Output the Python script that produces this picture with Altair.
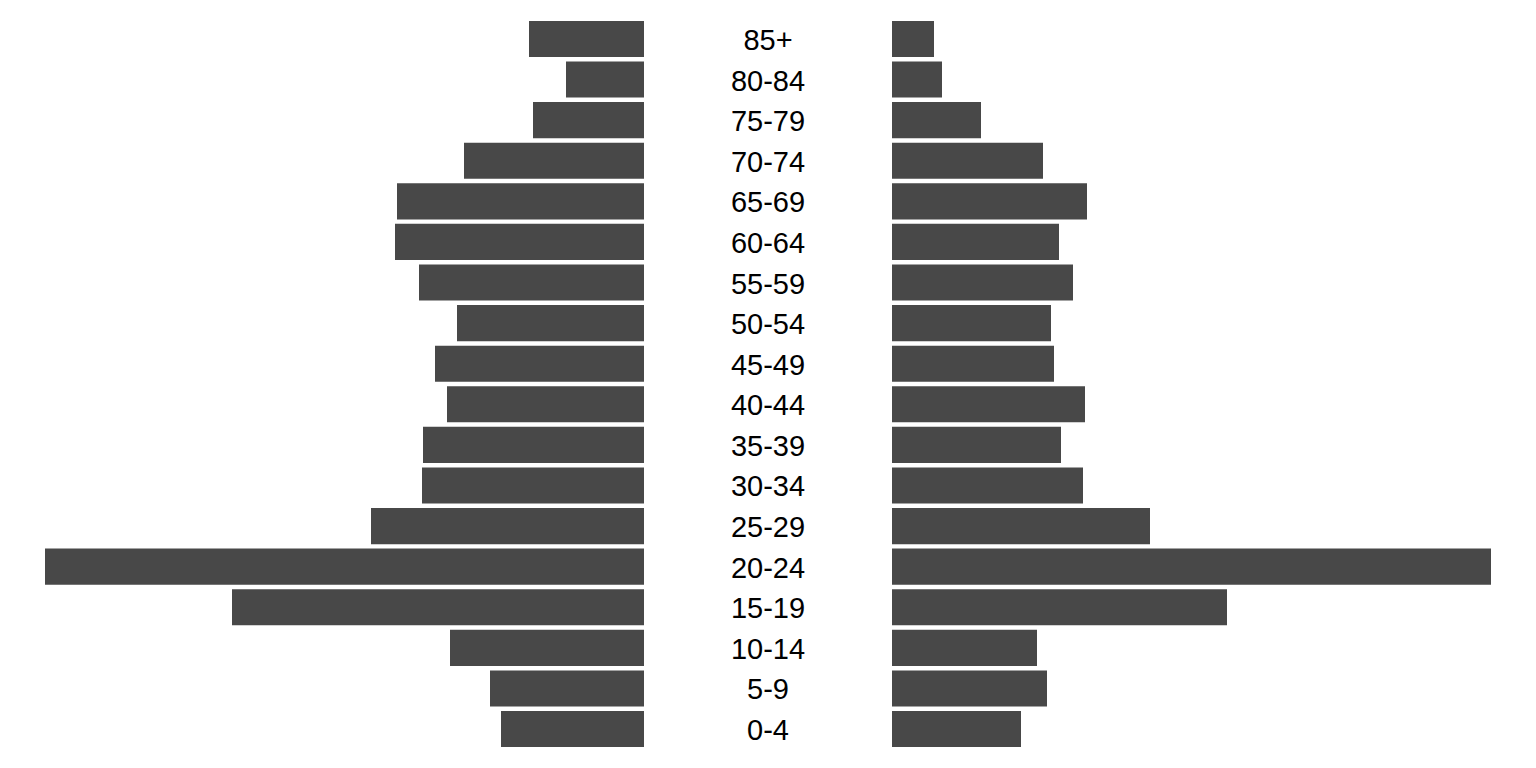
import altair as alt
import pandas as pd

age_groups = ["85+", "80-84", "75-79", "70-74", "65-69", "60-64", "55-59", "50-54",
              "45-49", "40-44", "35-39", "30-34", "25-29", "20-24", "15-19", "10-14",
              "5-9", "0-4"]
left_values = [115, 78, 111, 180, 247, 249, 225, 187, 209, 197, 221, 222, 273, 599,
               412, 194, 154, 143]
right_values = [42, 50, 89, 151, 195, 167, 181, 159, 162, 193, 169, 191, 258, 599,
                335, 145, 155, 129]

df = pd.DataFrame({"age": age_groups, "left": left_values, "right": right_values})

yscale = alt.Scale(type="band", domain=age_groups, paddingInner=0.11, paddingOuter=0.515)
y_enc = alt.Y("age:N", sort=age_groups, scale=yscale, axis=None)
bar_color = "#484848"
H = 768

left = alt.Chart(df).mark_bar(color=bar_color).encode(
    x=alt.X("left:Q", scale=alt.Scale(domain=[0, 644], reverse=True, nice=False), axis=None),
    y=y_enc,
).properties(width=644, height=H)

middle = alt.Chart(df).mark_text(
    font="Liberation Sans", fontSize=29, color="#000000", baseline="middle", align="center",
    dy=2
).encode(
    y=alt.Y("age:N", sort=age_groups, scale=yscale, axis=None, bandPosition=0.5),
    text="age:N",
).properties(width=248, height=H)

right = alt.Chart(df).mark_bar(color=bar_color).encode(
    x=alt.X("right:Q", scale=alt.Scale(domain=[0, 644], nice=False), axis=None),
    y=y_enc,
).properties(width=644, height=H)

chart = alt.hconcat(left, middle, right, spacing=0).properties(
    padding=0, background="white"
).configure_view(stroke=None).configure_concat(spacing=0)

chart.save("out.html", embed_options={"renderer": "svg", "actions": False})
